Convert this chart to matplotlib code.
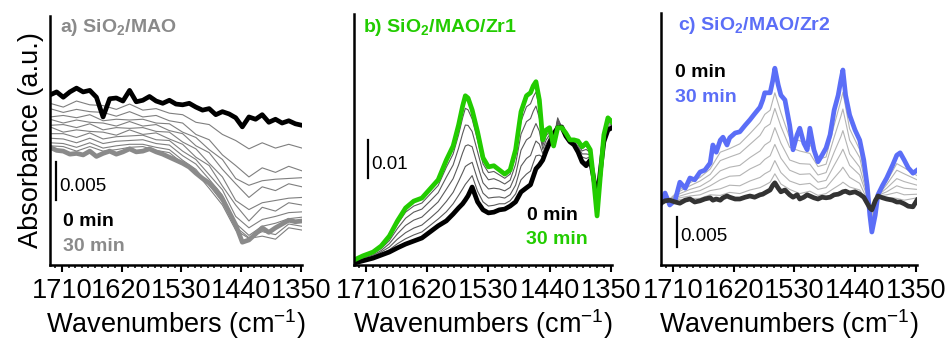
import numpy as np
import matplotlib.pyplot as plt
from matplotlib.ticker import MultipleLocator
from matplotlib.transforms import blended_transform_factory

plt.rcParams['font.family'] = ['Liberation Sans', 'DejaVu Sans']
plt.rcParams['mathtext.fontset'] = 'custom'
plt.rcParams['mathtext.rm'] = 'Liberation Sans'
plt.rcParams['mathtext.bf'] = 'Liberation Sans:bold'

# all absorbances in mAbs (1e-3)
xticks = [1710, 1620, 1530, 1440, 1350]

# --- a) SiO2/MAO ---
wn_a = [1728, 1718, 1708, 1698, 1688, 1678, 1668, 1658, 1648, 1638, 1628, 1618, 1608,
        1598, 1588, 1578, 1568, 1558, 1548, 1538, 1528, 1518, 1508, 1498, 1488, 1478,
        1468, 1458, 1448, 1438, 1428, 1418, 1408, 1398, 1388, 1378, 1368, 1358, 1348]
a_0min = [22.4, 22.8, 22.1, 22.8, 23.3, 22.8, 23.0, 22.1, 19.5, 21.9, 22.0, 21.6, 23.0,
          21.5, 21.7, 22.2, 21.6, 21.3, 21.7, 21.2, 21.1, 21.3, 20.8, 20.4, 20.6, 19.8,
          20.2, 19.9, 19.4, 18.2, 19.5, 19.2, 19.8, 18.8, 19.2, 18.7, 19.0, 18.6, 18.4]
a_30min = [15.5, 15.1, 15.0, 14.6, 14.7, 14.5, 15.0, 14.3, 14.7, 15.0, 14.6, 14.9, 15.3,
           14.9, 15.0, 15.3, 14.9, 14.6, 14.2, 13.8, 13.4, 12.9, 12.1, 11.4, 10.8, 9.9,
           8.7, 7.0, 5.3, 3.0, 3.3, 4.1, 4.9, 4.3, 4.9, 5.4, 5.9, 5.7, 5.8]
wn_a_mid = [1728, 1708, 1688, 1668, 1648, 1628, 1608, 1588, 1568, 1548,
            1528, 1508, 1488, 1468, 1448, 1428, 1408, 1388, 1368, 1348]
a_mid = [
    [21.3, 20.8, 21.6, 21.1, 21.0, 20.5, 21.2, 20.4, 20.6, 20.0, 19.8, 18.8, 18.5, 17.2, 16.4, 15.3, 16.1, 15.4, 15.9, 15.4],
    [20.6, 20.1, 20.5, 20.2, 20.1, 19.6, 20.2, 19.5, 19.7, 19.0, 18.7, 17.2, 16.5, 14.5, 13.1, 11.6, 12.8, 12.2, 13.0, 12.4],
    [19.5, 19.7, 19.4, 19.8, 19.0, 19.2, 19.1, 19.2, 18.7, 18.6, 17.5, 16.8, 15.2, 13.9, 11.4, 10.5, 11.1, 11.3, 11.4, 11.5],
    [19.2, 18.7, 19.1, 18.8, 18.7, 18.3, 18.9, 18.3, 18.5, 17.7, 17.3, 15.7, 14.8, 12.6, 10.7, 8.9, 10.3, 9.8, 10.7, 10.3],
    [18.4, 18.5, 18.1, 18.6, 17.8, 18.1, 18.0, 18.1, 17.6, 17.5, 16.2, 15.3, 13.4, 11.6, 8.5, 7.3, 8.2, 8.5, 8.8, 8.9],
    [18.2, 17.5, 17.8, 17.6, 17.5, 17.1, 17.8, 17.2, 17.4, 16.6, 15.9, 14.2, 13.1, 10.4, 7.9, 5.8, 7.6, 7.1, 8.2, 7.9],
    [17.3, 17.3, 16.8, 17.4, 16.6, 16.9, 17.0, 17.1, 16.5, 16.4, 15.0, 13.9, 11.9, 9.9, 6.4, 4.9, 6.0, 6.4, 6.9, 7.0],
    [16.7, 16.6, 16.1, 16.7, 16.0, 16.3, 16.4, 16.5, 16.0, 15.8, 14.4, 13.3, 11.3, 9.2, 5.5, 3.9, 5.1, 5.5, 6.1, 6.3],
    [16.1, 16.0, 15.5, 16.1, 15.4, 15.7, 15.9, 15.9, 15.5, 15.2, 13.8, 12.6, 10.5, 8.3, 5.0, 3.6, 4.4, 4.0, 5.4, 5.1],
    [15.7, 15.6, 15.0, 15.6, 15.0, 15.2, 15.5, 15.6, 15.1, 14.8, 13.4, 12.2, 10.1, 7.9, 4.6, 3.5, 3.8, 3.4, 4.9, 4.6],
]

# --- b) SiO2/MAO/Zr1 ---
wn_b = [1728, 1715, 1700, 1688, 1676, 1664, 1652, 1640, 1628, 1616, 1604, 1592, 1582,
        1574, 1568, 1564, 1560, 1554, 1546, 1538, 1530, 1522, 1514, 1506, 1498, 1490,
        1482, 1474, 1468, 1464, 1460, 1455, 1450, 1445, 1440, 1434, 1428, 1422, 1416,
        1410, 1404, 1398, 1392, 1386, 1380, 1375, 1370, 1365, 1360, 1354, 1348]
b_0min = [0.5, 1.1, 1.8, 2.6, 3.4, 4.5, 5.5, 6.3, 7.1, 8.7, 10.3, 11.6, 13.4, 15.0, 16.1,
          17.1, 18.2, 20.5, 16.6, 14.5, 13.7, 13.9, 14.5, 14.7, 15.5, 16.6, 19.2, 20.3,
          21.1, 23.2, 25.3, 26.3, 27.6, 30.0, 32.1, 34.5, 36.1, 36.3, 33.9, 32.4, 31.6,
          29.7, 27.1, 26.1, 27.6, 22.9, 17.1, 25.0, 32.4, 35.5, 36.1]
b_30min = [1.3, 2.4, 3.4, 5.0, 7.6, 11.6, 15.0, 16.8, 17.6, 20.0, 22.4, 27.6, 31.3, 36.8,
           41.8, 44.5, 43.9, 40.8, 35.0, 28.2, 25.8, 26.1, 25.0, 23.9, 25.0, 30.3, 40.3,
           44.5, 45.3, 47.1, 48.2, 43.4, 32.9, 35.5, 36.1, 31.3, 36.1, 36.1, 34.7, 32.9,
           32.9, 32.6, 31.1, 32.1, 30.3, 22.4, 12.9, 23.7, 34.2, 38.7, 37.6]
b_mid = [
    [1.2, 2.2, 3.2, 4.7, 7.1, 10.7, 13.9, 15.5, 16.3, 18.6, 20.9, 25.7, 29.2, 34.2, 38.7, 41.2, 40.8,
     38.4, 32.8, 26.6, 24.3, 24.6, 23.7, 22.8, 23.9, 28.7, 37.8, 41.6, 42.4, 44.2, 45.5, 41.3, 32.3,
     34.8, 35.6, 31.7, 37.5, 36.1, 34.6, 32.8, 32.7, 32.3, 30.6, 31.4, 30.0, 22.5, 13.4, 23.9, 34.0, 38.3, 37.4],
    [1.1, 2.0, 3.0, 4.3, 6.4, 9.6, 12.3, 13.9, 14.7, 16.8, 19.0, 23.1, 26.3, 30.7, 34.6, 36.8, 36.7,
     35.1, 29.8, 24.4, 22.4, 22.7, 22.1, 21.3, 22.3, 26.5, 34.4, 37.7, 38.5, 40.4, 41.8, 38.6, 31.4,
     34.0, 35.0, 32.2, 38.2, 36.2, 34.5, 32.8, 32.5, 31.8, 30.0, 30.4, 29.5, 22.5, 14.1, 24.1, 33.7, 37.8, 37.2],
    [0.9, 1.8, 2.6, 3.8, 5.6, 8.2, 10.4, 11.8, 12.6, 14.6, 16.6, 19.9, 22.7, 26.3, 29.5, 31.3, 31.6,
     31.1, 26.2, 21.6, 20.0, 20.2, 20.0, 19.5, 20.4, 23.7, 30.2, 32.9, 33.7, 35.6, 37.2, 35.2, 30.4,
     32.9, 34.2, 32.8, 38.7, 36.2, 34.3, 32.7, 32.3, 31.2, 29.2, 29.2, 29.0, 22.6, 14.9, 24.3, 33.3, 37.2, 36.9],
    [0.8, 1.5, 2.3, 3.4, 4.7, 6.8, 8.5, 9.7, 10.5, 12.3, 14.2, 16.7, 19.1, 22.0, 24.3, 25.9, 26.4,
     27.0, 22.5, 18.9, 17.6, 17.8, 17.9, 17.6, 18.5, 21.0, 26.0, 28.0, 28.8, 30.8, 32.6, 31.8, 29.3,
     31.8, 33.4, 33.5, 38.0, 36.2, 34.2, 32.6, 32.0, 30.6, 28.4, 28.0, 28.5, 22.7, 15.8, 24.6, 33.0, 36.5, 36.6],
    [0.6, 1.3, 2.0, 3.0, 4.0, 5.6, 6.9, 7.9, 8.7, 10.4, 12.1, 14.0, 16.1, 18.3, 20.0, 21.2, 22.1,
     23.5, 19.4, 16.6, 15.5, 15.7, 16.1, 16.1, 16.9, 18.7, 22.4, 23.9, 24.7, 26.8, 28.7, 28.9, 28.4,
     30.8, 32.7, 34.0, 37.2, 36.3, 34.0, 32.5, 31.8, 30.1, 27.7, 27.0, 28.0, 22.8, 16.5, 24.8, 32.7, 36.0, 36.3],
]

# --- c) SiO2/MAO/Zr2 ---
wn_c = [1728, 1722, 1715, 1707, 1700, 1692, 1685, 1678, 1670, 1663, 1655, 1651, 1646, 1640,
        1636, 1630, 1626, 1618, 1611, 1603, 1596, 1589, 1581, 1577, 1574, 1566, 1562, 1559,
        1554, 1550, 1544, 1537, 1532, 1526, 1522, 1516, 1511, 1507, 1501, 1495, 1489, 1483,
        1477, 1471, 1465, 1461, 1458, 1454, 1448, 1440, 1433, 1427, 1422, 1418, 1415, 1410,
        1406, 1399, 1393, 1384, 1378, 1373, 1367, 1361, 1354, 1348]
c_0min = [10.3, 10.7, 10.8, 10.5, 10.3, 10.8, 11.0, 10.5, 10.7, 11.0, 11.2, 10.8, 11.0, 10.8,
          11.2, 11.5, 11.3, 11.0, 11.0, 11.3, 11.5, 11.3, 11.7, 11.8, 12.0, 12.5, 13.3, 13.7,
          12.8, 12.2, 12.5, 11.7, 11.3, 11.7, 11.0, 11.3, 11.7, 11.5, 11.2, 11.0, 11.3, 11.2,
          11.3, 11.7, 11.8, 12.0, 12.2, 12.3, 12.0, 12.2, 11.8, 11.3, 10.3, 9.5, 9.2, 10.7,
          11.5, 11.2, 11.0, 10.8, 10.5, 10.5, 10.2, 9.8, 9.7, 10.8]
c_30min = [10.3, 12.0, 10.0, 10.8, 13.8, 12.8, 14.5, 14.2, 15.5, 15.8, 17.0, 20.0, 18.8, 20.8,
           21.3, 20.0, 21.2, 22.0, 22.2, 23.3, 24.2, 25.2, 26.3, 27.5, 28.7, 28.7, 30.8, 32.8,
           30.0, 28.3, 27.5, 23.3, 19.2, 21.7, 22.8, 20.3, 19.2, 22.8, 19.2, 17.2, 18.3, 19.5,
           21.7, 25.8, 28.3, 30.8, 32.5, 28.3, 25.0, 22.5, 20.8, 17.5, 13.3, 8.3, 5.5, 8.3,
           11.7, 13.3, 14.5, 16.7, 18.3, 18.7, 17.5, 16.2, 15.3, 15.8]
wn_c_mid = [1728, 1715, 1700, 1685, 1670, 1655, 1640, 1626, 1611, 1596, 1581, 1574, 1566, 1559,
            1550, 1537, 1522, 1507, 1495, 1483, 1471, 1461, 1458, 1448, 1433, 1422, 1415, 1406,
            1393, 1378, 1367, 1348]
c_mid = [
    [10.4, 11.0, 12.6, 13.7, 14.6, 16.0, 18.8, 19.4, 20.2, 21.9, 23.7, 25.1, 25.8, 28.7, 25.4, 21.2,
     20.7, 20.1, 17.6, 18.0, 23.3, 27.4, 28.8, 22.7, 19.2, 12.8, 6.2, 11.7, 13.9, 16.9, 16.2, 14.9],
    [10.3, 10.9, 12.3, 13.2, 14.0, 15.1, 17.4, 18.0, 18.6, 20.1, 21.6, 22.9, 23.5, 26.1, 23.1, 19.6,
     19.0, 18.6, 16.4, 16.8, 21.3, 24.8, 26.0, 20.8, 17.9, 12.3, 6.7, 11.6, 13.4, 15.8, 15.2, 14.2],
    [10.5, 10.9, 11.9, 12.6, 13.1, 14.1, 15.7, 16.3, 16.6, 17.9, 19.0, 20.0, 20.6, 22.9, 20.3, 17.5,
     16.9, 16.8, 15.0, 15.4, 18.8, 21.4, 22.4, 18.5, 16.3, 11.8, 7.4, 11.6, 12.8, 14.4, 13.9, 13.3],
    [10.2, 10.9, 11.5, 12.0, 12.4, 13.2, 14.2, 14.8, 14.9, 16.0, 16.8, 17.6, 18.2, 20.1, 17.8, 15.8,
     15.1, 15.2, 13.8, 14.1, 16.6, 18.6, 19.3, 16.6, 15.0, 11.4, 7.9, 11.6, 12.2, 13.2, 12.8, 12.6],
    [10.4, 10.8, 11.2, 11.5, 11.7, 12.4, 12.7, 13.3, 13.2, 14.0, 14.6, 15.2, 15.7, 17.4, 15.4, 14.0,
     13.4, 13.6, 12.6, 12.9, 14.5, 15.8, 16.3, 14.6, 13.6, 10.9, 8.5, 11.5, 11.7, 12.1, 11.7, 11.8],
    [10.3, 10.8, 10.9, 11.1, 11.1, 11.7, 11.6, 12.1, 11.9, 12.5, 12.9, 13.3, 13.8, 15.2, 13.5, 12.6,
     11.9, 12.3, 11.6, 11.9, 12.8, 13.5, 13.8, 13.0, 12.5, 10.5, 8.9, 11.5, 11.3, 11.1, 10.8, 11.2],
]

green = '#22cc00'
blue = '#5b6ef7'
grey = '#8a8a8a'

W, H = 950, 341
fig = plt.figure(figsize=(9.5, 3.41), dpi=100)


def add_ax(left, right, top, bottom):
    return fig.add_axes([left / W, 1 - bottom / H, (right - left) / W, (bottom - top) / H])


def style(ax, ytop):
    ax.set_xlim(1728, 1348)
    ax.set_ylim(0, ytop)
    for s in ['top', 'right']:
        ax.spines[s].set_visible(False)
    for s in ['left', 'bottom']:
        ax.spines[s].set_linewidth(1.8)
    ax.set_yticks([])
    ax.set_xticks(xticks)
    ax.xaxis.set_minor_locator(MultipleLocator(10))
    ax.tick_params(axis='x', which='major', length=5, width=1.5, labelsize=19.5, pad=4)
    ax.tick_params(axis='x', which='minor', length=2.5, width=1.1)
    ax.set_xlabel('Wavenumbers (cm$^{-1}$)', fontsize=19.5, labelpad=3)


def scale_bar(ax, x, y0, size, label):
    tr = blended_transform_factory(ax.transAxes, ax.transData)
    ax.plot([x, x], [y0, y0 + size], color='black', lw=1.6, transform=tr)
    ax.text(x + 0.012, y0 + size * 0.35, label, transform=tr, fontsize=13.5, va='center')


ax_a = add_ax(50, 302, 16, 265)
ax_b = add_ax(354, 612, 14, 265)
ax_c = add_ax(661, 917, 13, 265)

# a
for y in a_mid:
    ax_a.plot(wn_a_mid, np.array(y), color='#7f7f7f', lw=0.8)
ax_a.plot(wn_a, a_30min, color=grey, lw=3.4)
ax_a.plot(wn_a, a_0min, color='black', lw=3.4)
style(ax_a, 32.8)
ax_a.set_ylabel('Absorbance (a.u.)', fontsize=19.5, labelpad=4)
scale_bar(ax_a, 0.024, 8.55, 5, '0.005')
ax_a.text(0.04, 0.952, 'a) SiO$_\\mathbf{2}$/MAO', transform=ax_a.transAxes, color=grey,
          fontsize=14, fontweight='bold', va='center')
ax_a.text(0.052, 0.173, '0 min', transform=ax_a.transAxes, color='black', fontsize=14,
          fontweight='bold', va='center')
ax_a.text(0.052, 0.076, '30 min', transform=ax_a.transAxes, color=grey, fontsize=14,
          fontweight='bold', va='center')

# b
for y in b_mid:
    ax_b.plot(wn_b, y, color='#5a5a5a', lw=0.8)
ax_b.plot(wn_b, b_0min, color='black', lw=3.4)
ax_b.plot(wn_b, b_30min, color=green, lw=3.4)
style(ax_b, 66)
scale_bar(ax_b, 0.054, 22.9, 10, '0.01')
ax_b.text(0.035, 0.948, 'b) SiO$_\\mathbf{2}$/MAO/Zr1', transform=ax_b.transAxes, color=green,
          fontsize=14, fontweight='bold', va='center')
ax_b.text(0.671, 0.199, '0 min', transform=ax_b.transAxes, color='black', fontsize=14,
          fontweight='bold', va='center')
ax_b.text(0.667, 0.100, '30 min', transform=ax_b.transAxes, color=green, fontsize=14,
          fontweight='bold', va='center')

# c
for y in c_mid:
    ax_c.plot(wn_c_mid, y, color='#b4b4b4', lw=0.8)
ax_c.plot(wn_c, c_30min, color=blue, lw=3.4)
ax_c.plot(wn_c, c_0min, color='#333333', lw=3.4)
style(ax_c, 42)
scale_bar(ax_c, 0.0625, 3.0, 5, '0.005')
ax_c.text(0.066, 0.952, 'c) SiO$_\\mathbf{2}$/MAO/Zr2', transform=ax_c.transAxes, color=blue,
          fontsize=14, fontweight='bold', va='center')
ax_c.text(0.055, 0.762, '0 min', transform=ax_c.transAxes, color='black', fontsize=14,
          fontweight='bold', va='center')
ax_c.text(0.055, 0.663, '30 min', transform=ax_c.transAxes, color=blue, fontsize=14,
          fontweight='bold', va='center')

fig.savefig('out.png', dpi=100)
